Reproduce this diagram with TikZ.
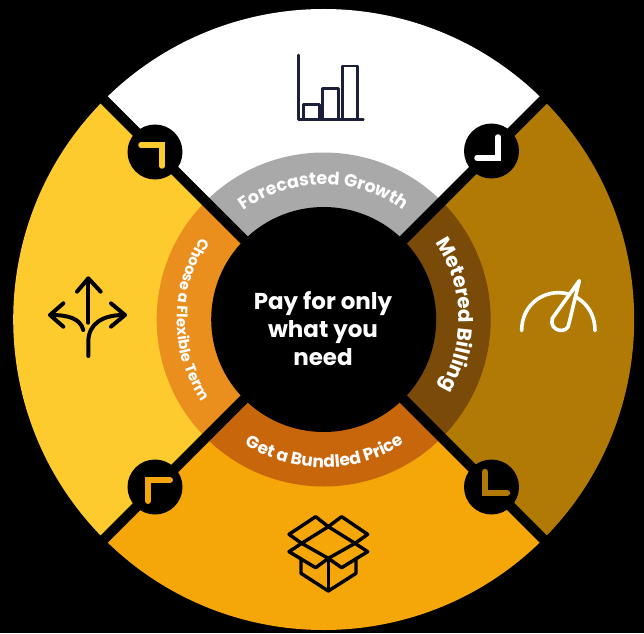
\documentclass[tikz,border=0pt]{standalone}
\usepackage{fontspec}
\usetikzlibrary{decorations.text}
\newfontfamily\pop{Poppins}
\definecolor{cyellow}{HTML}{FDCB2E}
\definecolor{cgold}{HTML}{B07A05}
\definecolor{corange}{HTML}{F5A608}
\definecolor{rgrey}{HTML}{A9A9A9}
\definecolor{rbrown}{HTML}{7A4A08}
\definecolor{rdark}{HTML}{C8660C}
\definecolor{rorange}{HTML}{EA8E1E}
\definecolor{navy}{HTML}{1B1F3B}
\tikzset{
  x=1pt,y=1pt,
  chev/.style={line width=5.5pt,line cap=round,line join=miter},
  icon/.style={line cap=round,line join=round},
  ringtext/.style n args={2}{decorate,decoration={text along path,text align=center,text color=white,
     text format delimiters={|}{|},text={|\pop\bfseries\fontsize{#1}{#1}\selectfont|#2}}},
  pxscope/.style={shift={(0,633)},yscale=-1},
}
\begin{document}
\begin{tikzpicture}
\useasboundingbox (0,0) rectangle (644,633);
\fill[black] (0,0) rectangle (644,633);
\coordinate (c) at (323.7,313.5);
% outer sectors
\fill[white]   (c) -- ++(135:310.5) arc (135:45:310.5) -- cycle;
\fill[cgold]   (c) -- ++(45:310.5) arc (45:-45:310.5) -- cycle;
\fill[corange] (c) -- ++(-45:310.5) arc (-45:-135:310.5) -- cycle;
\fill[cyellow] (c) -- ++(-135:310.5) arc (-135:-225:310.5) -- cycle;
% ring sectors
\fill[rgrey]   (c) -- ++(135:167) arc (135:45:167) -- cycle;
\fill[rbrown]  (c) -- ++(45:167) arc (45:-45:167) -- cycle;
\fill[rdark]   (c) -- ++(-45:167) arc (-45:-135:167) -- cycle;
\fill[rorange] (c) -- ++(-135:167) arc (-135:-225:167) -- cycle;
% dividers
\foreach \a in {45,135,225,315}
  \draw[black,line width=10pt] (c) -- ++(\a:318);
% centre
\fill[black] (c) circle (112.5);
\node[font=\pop\bfseries\fontsize{23}{28}\selectfont,text=white,align=center,inner sep=0pt] (title) at (323,304) {Pay for only\\what you\\need};
% ring labels
\path[ringtext={17.5}{Forecasted Growth}] (c) ++(150:135) arc (150:30:135);
\path[ringtext={20}{Metered Billing}] (c) ++(62:135) arc (62:-58:135);
\path[ringtext={17}{Get a Bundled Price}] (c) ++(-149.5:148) arc (-149.5:-29.5:148);
\path[ringtext={14.8}{Choose a Flexible Term}] (c) ++(120:147) arc (120:240:147);
% corner badges
\begin{scope}[pxscope]
\fill[black] (155,152) circle (27.5);
\fill[black] (491.5,151) circle (27.5);
\fill[black] (155,487) circle (27.5);
\fill[black] (491.5,487) circle (27.5);
\draw[chev,cyellow] (141,145) -- (162,145) -- (162,166);
\draw[chev,white]   (477,158) -- (498,158) -- (498,137);
\draw[chev,corange,line width=6pt] (148,501) -- (148,480) -- (170,480);
\draw[chev,cgold,line width=6.5pt]   (485,472) -- (485,493) -- (507,493);
% bar chart
\begin{scope}[shift={(270,40)},scale=1/3,icon,draw=navy,line width=2.6pt]
\draw (85,45) -- (85,238) -- (280,238);
\draw (100,238) -- (100,193) -- (148,193) -- (148,238);
\draw (158,238) -- (158,145) -- (205,145) -- (205,238);
\draw (218,238) -- (218,78) -- (263,78) -- (263,238);
\end{scope}
% arrows
\begin{scope}[shift={(30,260)},scale=1/3,icon,draw=black,line width=4pt]
\draw (175,188) -- (175,58);
\draw (141,95) -- (175,55) -- (212,95);
\draw (175,288) -- (175,245) .. controls (175,190) and (220,165) .. (280,165);
\draw (243,130) -- (285,165) -- (243,200);
\draw (62,165) .. controls (115,165) and (150,175) .. (160,210);
\draw (100,130) -- (60,165) -- (100,200);
\end{scope}
% gauge
\begin{scope}[shift={(500,270)},scale=1/3,icon,draw=white,line width=3.6pt]
\draw (65,182) .. controls (65,110) and (120,68) .. (175,68) .. controls (230,68) and (285,110) .. (285,182);
\fill[cgold] (238,32) -- (155,150) .. controls (145,185) and (205,195) .. (207,160) -- cycle;
\draw (238,32) -- (157,145) .. controls (145,185) and (205,195) .. (207,160) -- cycle;
\end{scope}
% box
\begin{scope}[shift={(275,505)},scale=1/3,icon,draw=black,line width=3.4pt]
\draw (160,65) -- (240,115) -- (160,160) -- (80,115) -- cycle;
\draw (80,115) -- (42,88) -- (122,35) -- (160,65) -- (200,35) -- (278,88) -- (240,115);
\draw (80,115) -- (42,140) -- (122,188) -- (160,160) -- (200,188) -- (278,140) -- (240,115);
\draw (78,160) -- (78,205) -- (160,258) -- (243,205) -- (243,160);
\draw (160,160) -- (160,258);
\end{scope}
\end{scope}
\end{tikzpicture}
\end{document}
